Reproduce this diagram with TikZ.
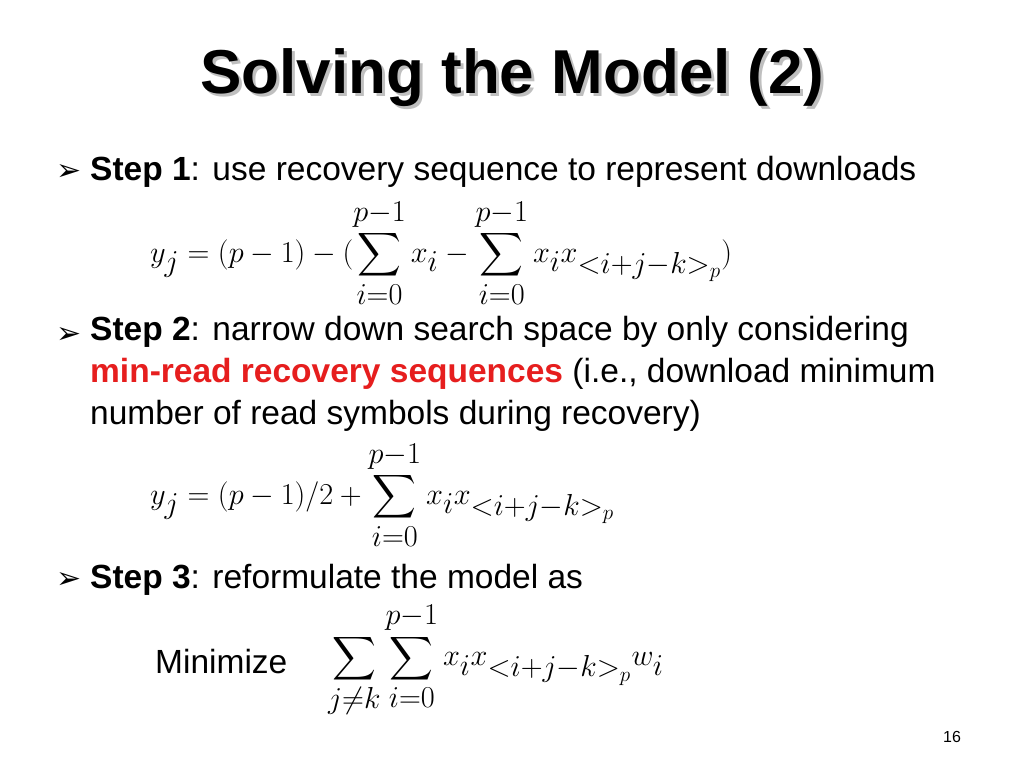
\documentclass[tikz,border=0pt]{standalone}
\usepackage{fontspec}
\setmainfont{Liberation Sans}
\newfontfamily\dv{DejaVu Sans}
\usepackage{amsmath}
\begin{document}
\begin{tikzpicture}[x=1pt,y=-1pt,
  txt/.style={anchor=west,inner sep=0pt,font=\fontsize{33.5}{42}\selectfont},
  bul/.style={anchor=west,inner sep=0pt,font=\dv\fontsize{30}{32}\selectfont},
  eq/.style={anchor=west,inner sep=0pt,font=\fontsize{33}{40}\selectfont}]
\useasboundingbox[fill=white] (0,0) rectangle (1024,768);
\node[font=\bfseries\fontsize{62}{70}\selectfont,text=gray!50] at (515,81) {Solving the Model (2)};
\node (title) [font=\bfseries\fontsize{62}{70}\selectfont] at (512,78) {Solving the Model (2)};
\node (b1) [bul] at (56,172) {➢};
\node (s1) [txt] at (90,172) {\textbf{Step 1}: use recovery sequence to represent downloads};
\node (e1) [eq] at (150,253) {\scalebox{1.22}{$\displaystyle y_j=(p-1)-(\sum_{i=0}^{p-1}x_i-\sum_{i=0}^{p-1}x_i x_{<i+j-k>_p})$}};
\node (b2) [bul] at (56,335) {➢};
\node (s2) [txt,align=left,anchor=north west] at (90,316) {\textbf{Step 2}: narrow down search space by only considering\\
\textcolor[RGB]{230,30,30}{\textbf{min-read recovery sequences}} (i.e., download minimum\\
number of read symbols during recovery)};
\node (e2) [eq] at (150,495) {\scalebox{1.22}{$\displaystyle y_j=(p-1)/2+\sum_{i=0}^{p-1}x_i x_{<i+j-k>_p}$}};
\node (b3) [bul] at (56,580) {➢};
\node (s3) [txt] at (90,580) {\textbf{Step 3}: reformulate the model as};
\node (mn) [txt] at (155,662) {Minimize};
\node (e3) [eq] at (328,660) {\scalebox{1.22}{$\displaystyle \sum_{j\neq k}\sum_{i=0}^{p-1}x_i x_{<i+j-k>_p}w_i$}};
\node (pg) [font=\fontsize{16}{18}\selectfont] at (952,737) {16};
\end{tikzpicture}
\end{document}
